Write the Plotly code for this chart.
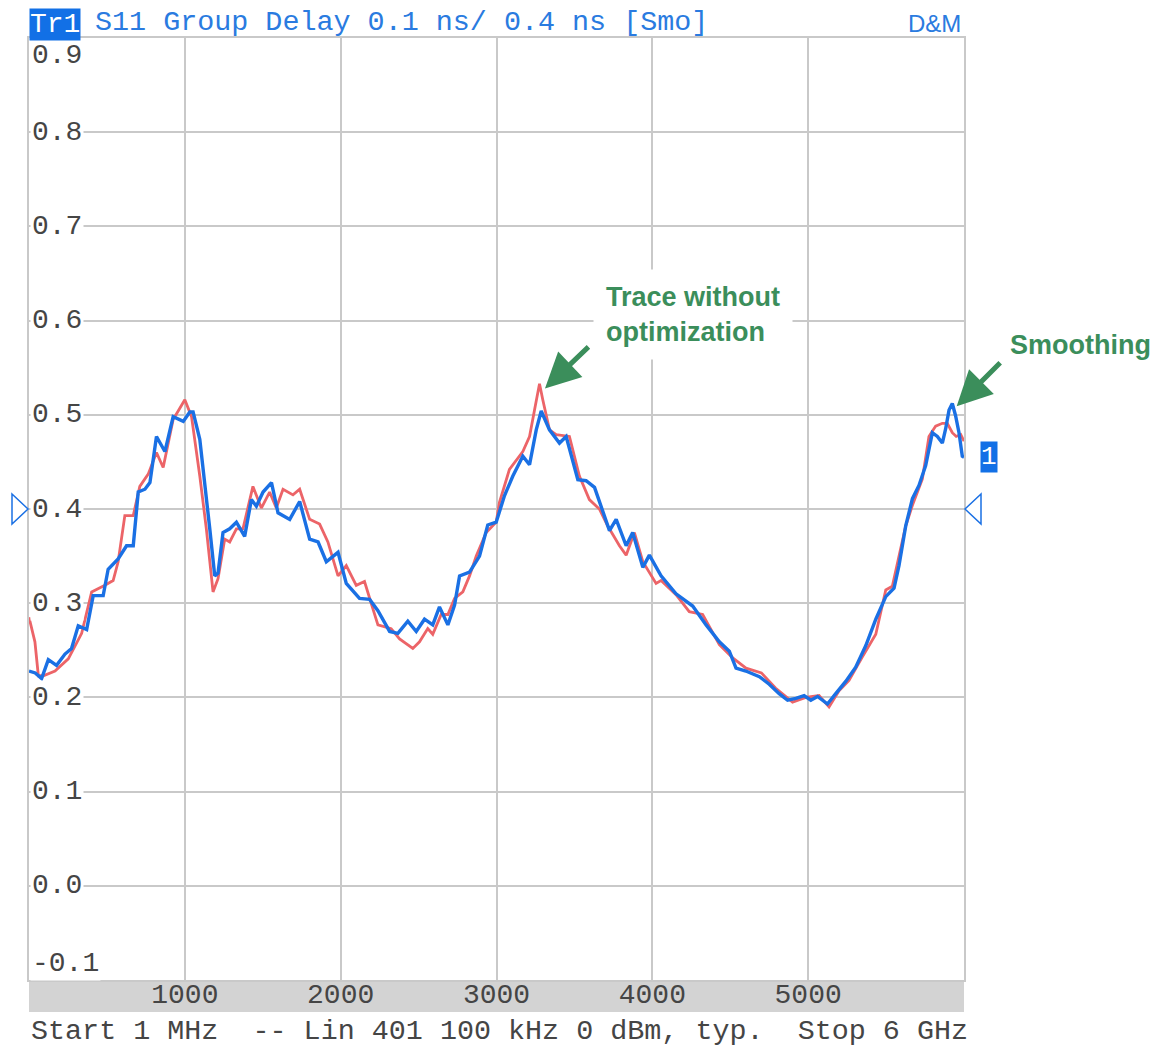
import plotly.graph_objects as go

# S11 group delay (ns) versus frequency (MHz), 1 MHz .. 6 GHz
freq_raw = [0, 38, 60, 92, 167, 252, 338, 402, 487, 540, 572, 615, 669, 711, 765, 818, 861, 925,
            1000, 1043, 1096, 1138, 1181, 1213, 1256, 1288, 1331, 1373, 1437, 1491, 1544, 1587,
            1630, 1694, 1737, 1801, 1865, 1918, 1983, 2036, 2100, 2153, 2207, 2239, 2324, 2378,
            2463, 2506, 2559, 2591, 2645, 2688, 2731, 2784, 2827, 2870, 2934, 2998, 3019, 3083,
            3169, 3212, 3244, 3276, 3297, 3340, 3383, 3468, 3532, 3596, 3660, 3714, 3789, 3832,
            3885, 3939, 4024, 4056, 4152, 4237, 4323, 4430, 4516, 4601, 4700, 4790, 4900, 4985,
            5070, 5134, 5198, 5262, 5348, 5434, 5498, 5540, 5626, 5669, 5733, 5775, 5818, 5861,
            5893, 5925, 5950, 5979, 6000]
delay_raw = [0.285, 0.259, 0.223, 0.223, 0.228, 0.241, 0.268, 0.312, 0.319, 0.324, 0.344, 0.393,
             0.393, 0.424, 0.437, 0.460, 0.444, 0.495, 0.516, 0.498, 0.435, 0.379, 0.312, 0.326,
             0.368, 0.365, 0.379, 0.379, 0.424, 0.401, 0.418, 0.401, 0.421, 0.415, 0.421, 0.389,
             0.384, 0.365, 0.329, 0.340, 0.319, 0.323, 0.294, 0.277, 0.273, 0.262, 0.252, 0.259,
             0.273, 0.267, 0.288, 0.288, 0.305, 0.312, 0.329, 0.350, 0.375, 0.386, 0.407, 0.442,
             0.461, 0.477, 0.505, 0.533, 0.516, 0.484, 0.479, 0.477, 0.435, 0.410, 0.400, 0.382,
             0.361, 0.351, 0.375, 0.344, 0.321, 0.324, 0.309, 0.291, 0.288, 0.256, 0.242, 0.231,
             0.226, 0.210, 0.195, 0.200, 0.202, 0.190, 0.207, 0.218, 0.243, 0.267, 0.314, 0.318,
             0.382, 0.404, 0.432, 0.477, 0.488, 0.491, 0.491, 0.481, 0.477, 0.479, 0.472]

freq_smo = [0, 40, 81, 124, 177, 231, 273, 316, 370, 412, 476, 508, 572, 626, 669, 701, 744, 776,
            818, 872, 925, 990, 1032, 1053, 1096, 1127, 1160, 1192, 1213, 1245, 1288, 1331, 1384,
            1427, 1459, 1502, 1556, 1598, 1673, 1737, 1801, 1855, 1908, 1983, 2036, 2121, 2186,
            2239, 2314, 2367, 2431, 2485, 2538, 2591, 2634, 2688, 2731, 2763, 2827, 2891, 2944,
            2998, 3051, 3105, 3169, 3212, 3255, 3287, 3340, 3404, 3447, 3522, 3575, 3629, 3671,
            3725, 3768, 3832, 3874, 3939, 3981, 4056, 4152, 4259, 4345, 4430, 4494, 4537, 4600,
            4687, 4750, 4814, 4868, 4921, 4974, 5017, 5060, 5124, 5177, 5241, 5305, 5370, 5434,
            5498, 5551, 5583, 5626, 5669, 5711, 5754, 5797, 5829, 5861, 5882, 5904, 5925, 5946,
            5968, 5989, 6000]
delay_smo = [0.228, 0.226, 0.220, 0.240, 0.234, 0.246, 0.252, 0.276, 0.272, 0.308, 0.308, 0.336,
             0.347, 0.361, 0.361, 0.418, 0.421, 0.428, 0.477, 0.461, 0.498, 0.493, 0.503, 0.503,
             0.474, 0.431, 0.379, 0.329, 0.332, 0.375, 0.379, 0.386, 0.371, 0.410, 0.403, 0.418,
             0.428, 0.396, 0.389, 0.408, 0.368, 0.365, 0.344, 0.354, 0.321, 0.305, 0.304, 0.292,
             0.270, 0.268, 0.281, 0.270, 0.283, 0.277, 0.296, 0.277, 0.298, 0.329, 0.333, 0.350,
             0.383, 0.386, 0.414, 0.435, 0.456, 0.447, 0.484, 0.504, 0.484, 0.470, 0.477, 0.431,
             0.430, 0.423, 0.403, 0.377, 0.389, 0.361, 0.375, 0.338, 0.351, 0.329, 0.310, 0.297,
             0.277, 0.259, 0.249, 0.231, 0.228, 0.222, 0.214, 0.204, 0.197, 0.199, 0.202, 0.197,
             0.201, 0.193, 0.204, 0.217, 0.232, 0.255, 0.283, 0.307, 0.316, 0.340, 0.382, 0.411,
             0.425, 0.446, 0.481, 0.477, 0.470, 0.485, 0.505, 0.512, 0.499, 0.481, 0.456, 0.455]

x_ticks = [1000, 2000, 3000, 4000, 5000]
x_tick_labels = ["1000", "2000", "3000", "4000", "5000"]
y_ticks = [-0.1, 0.0, 0.1, 0.2, 0.3, 0.4, 0.5, 0.6, 0.7, 0.8, 0.9]
y_tick_labels = ["-0.1", "0.0", "0.1", "0.2", "0.3", "0.4", "0.5", "0.6", "0.7", "0.8", "0.9"]

ref_level = 0.4
marker_level = 0.455

MONO = "Liberation Mono, DejaVu Sans Mono, monospace"
SANS = "Liberation Sans, Arial, sans-serif"
BLUE = "#1a70e4"
HEAD_BLUE = "#2a7be0"
RED = "#ec6468"
GREEN = "#3b8e5b"
GRID = "#c9c9c9"
TEXT = "#454545"

fig = go.Figure()
fig.add_trace(go.Scatter(x=freq_raw, y=delay_raw, mode="lines",
                         line=dict(color=RED, width=2.8), hoverinfo="skip"))
fig.add_trace(go.Scatter(x=freq_smo, y=delay_smo, mode="lines",
                         line=dict(color=BLUE, width=3.4), hoverinfo="skip"))

annotations = []
# scale labels sit inside the grid, on a white patch
for v, t in zip(y_ticks, y_tick_labels):
    shift = -17 if v == y_ticks[-1] else (17 if v == y_ticks[0] else 0)
    annotations.append(dict(x=0, xref="paper", xanchor="left", xshift=1,
                            y=v, yref="y", yanchor="middle", yshift=shift,
                            text=t, showarrow=False, bgcolor="white", borderpad=1,
                            font=dict(family=MONO, size=28, color=TEXT)))

# header line
annotations.append(dict(x=0, xref="paper", xanchor="left", y=1, yref="paper", yanchor="bottom",
                        yshift=-3, text="Tr1", showarrow=False, bgcolor="#1270e6", borderpad=0,
                        font=dict(family=MONO, size=28, color="white")))
annotations.append(dict(x=0, xref="paper", xanchor="left", xshift=64, y=1, yref="paper",
                        yanchor="bottom", yshift=-3,
                        text="S11 Group Delay 0.1 ns/ 0.4 ns [Smo]", showarrow=False,
                        font=dict(family=MONO, size=28.4, color=HEAD_BLUE)))
annotations.append(dict(x=1, xref="paper", xanchor="right", xshift=-1, y=1, yref="paper",
                        yanchor="bottom", yshift=-1, text="D&M", showarrow=False,
                        font=dict(family=SANS, size=24, color=HEAD_BLUE)))

# sweep settings footer
annotations.append(dict(x=0, xref="paper", xanchor="left", y=0, yref="paper", yanchor="top",
                        yshift=-33,
                        text="Start 1 MHz  -- Lin 401 100 kHz 0 dBm, typ.  Stop 6 GHz",
                        showarrow=False, font=dict(family=MONO, size=28.4, color=TEXT)))

# marker 1 flag
annotations.append(dict(x=1, xref="paper", xanchor="center", xshift=25, y=marker_level, yref="y",
                        text="1", showarrow=False, bgcolor="#1270e6", borderpad=0,
                        font=dict(family=MONO, size=26, color="white")))

# callouts
annotations.append(dict(x=4261, xref="x", xanchor="center", y=0.607, yref="y",
                        text="Trace without<br>optimization",
                        showarrow=False, align="left", bgcolor="white", borderpad=12,
                        font=dict(family=SANS, size=27, color=GREEN, weight="bold")))
annotations.append(dict(x=3311, xref="x", y=0.528, yref="y", text="", showarrow=True,
                        ax=45, ay=-43, arrowcolor=GREEN, arrowwidth=5, arrowhead=2,
                        arrowsize=1.4, standoff=0))
annotations.append(dict(x=1.125, xref="paper", xanchor="center", y=0.574, yref="y",
                        text="Smoothing", showarrow=False,
                        font=dict(family=SANS, size=27, color=GREEN, weight="bold")))
annotations.append(dict(x=5953, xref="x", y=0.509, yref="y", text="", showarrow=True,
                        ax=45, ay=-45, arrowcolor=GREEN, arrowwidth=5, arrowhead=2,
                        arrowsize=1.4, standoff=0))

shapes = [
    # grey frequency strip under the grid
    dict(type="rect", xref="paper", yref="paper", x0=0, x1=1, y0=0, y1=-0.034,
         fillcolor="#d3d3d3", line=dict(width=0), layer="below"),
    # reference-level triangles on both sides
    dict(type="path", xref="paper", xsizemode="pixel", xanchor=0, yref="y", ysizemode="pixel",
         yanchor=ref_level, path="M -17,15 L -1,0 L -17,-15 Z",
         line=dict(color=BLUE, width=1.5), fillcolor="rgba(0,0,0,0)"),
    dict(type="path", xref="paper", xsizemode="pixel", xanchor=1, yref="y", ysizemode="pixel",
         yanchor=ref_level, path="M 17,15 L 1,0 L 17,-15 Z",
         line=dict(color=BLUE, width=1.5), fillcolor="rgba(0,0,0,0)"),
]

fig.update_layout(
    width=1163, height=1051,
    margin=dict(l=29, r=199, t=38, b=71),
    paper_bgcolor="white", plot_bgcolor="white",
    showlegend=False,
    annotations=annotations,
    shapes=shapes,
    xaxis=dict(range=[0, 6000], tickvals=x_ticks, ticktext=x_tick_labels, ticks="",
               ticklabelstandoff=-12,
               showgrid=True, gridcolor=GRID, gridwidth=1.5, zeroline=False,
               showline=True, linecolor=GRID, linewidth=1.5, mirror=True,
               tickfont=dict(family=MONO, size=28, color=TEXT), fixedrange=True),
    yaxis=dict(range=[-0.1, 0.9], tickvals=y_ticks, showticklabels=False, ticks="",
               showgrid=True, gridcolor=GRID, gridwidth=1.5, zeroline=False,
               showline=True, linecolor=GRID, linewidth=1.5, mirror=True, fixedrange=True),
)

fig.write_html("out.html", config={"displayModeBar": False})
